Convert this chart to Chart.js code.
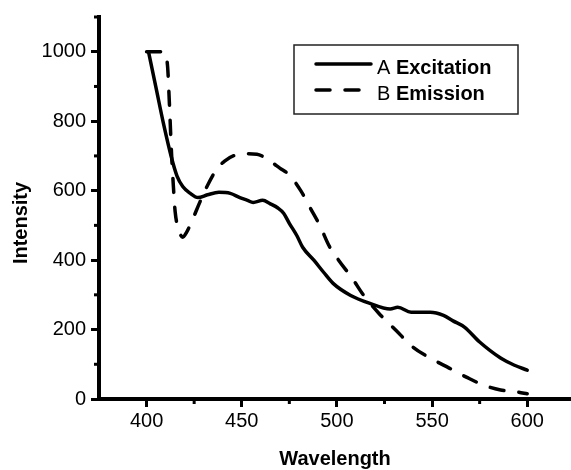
<!DOCTYPE html>
<html>
<head>
<meta charset="utf-8">
<script src="https://cdn.jsdelivr.net/npm/chart.js@4.4.1/dist/chart.umd.min.js"></script>
<style>
  html, body { margin: 0; padding: 0; background: #fff; }
  #wrap { width: 571px; height: 470px; }
</style>
</head>
<body>
<div id="wrap"><canvas id="spectrum" width="571" height="470"></canvas></div>
<script>
// Curve A: excitation (solid)
const excitationX = [401, 405, 409, 413, 416, 419, 423, 427, 432, 438, 444, 449, 453, 456, 461, 465, 469, 472, 475, 479, 482, 488, 493, 498, 507, 517, 528, 532, 539, 549, 556, 561, 567, 575, 586, 593, 600];
const excitationY = [1000, 895, 790, 697, 642, 612, 592, 580, 588, 595, 592, 580, 572, 566, 572, 562, 550, 535, 506, 470, 437, 399, 365, 333, 299, 276, 259, 264, 250, 250, 241, 225, 207, 164, 118, 98, 83];

// Curve B: emission (dashed)
const emissionX = [400, 409, 411, 412, 413, 414, 415, 417, 419, 421, 424, 428, 432, 437, 441, 446, 452, 458, 464, 470, 475, 481, 486, 491, 496, 501, 508, 514, 522, 531, 540, 549, 559, 568, 577, 586, 595, 600];
const emissionY = [1000, 1000, 960, 850, 720, 620, 540, 485, 466, 480, 515, 567, 615, 663, 685, 701, 706, 705, 688, 665, 645, 600, 550, 500, 440, 399, 348, 299, 247, 198, 149, 118, 89, 63, 40, 26, 20, 15];

const xTicks = [400, 450, 500, 550, 600];
const yTicks = [0, 200, 400, 600, 800, 1000];
const xMinor = [425, 475, 525, 575];
const yMinor = [100, 300, 500, 700, 900, 1100];

const legendLetters = ['A', 'B'];
const seriesNames = ['Excitation', 'Emission'];
const xTitle = 'Wavelength';
const yTitle = 'Intensity';

const FONT = "'Liberation Sans', Arial, Helvetica, sans-serif";

function toPoints(xs, ys) {
  return xs.map((x, i) => ({ x: x, y: ys[i] }));
}

// Short minor ticks on both axes, plus the rotated y title
const axisExtras = {
  id: 'axisExtras',
  afterDraw(chart) {
    const ctx = chart.ctx;
    const area = chart.chartArea;
    const xs = chart.scales.x, ys = chart.scales.y;
    ctx.save();
    ctx.strokeStyle = '#000';
    ctx.lineWidth = 3;
    xMinor.forEach(v => {
      const px = xs.getPixelForValue(v);
      ctx.beginPath();
      ctx.moveTo(px, area.bottom);
      ctx.lineTo(px, area.bottom + 5);
      ctx.stroke();
    });
    yMinor.forEach(v => {
      const py = ys.getPixelForValue(v);
      ctx.beginPath();
      ctx.moveTo(area.left, py);
      ctx.lineTo(area.left - 5, py);
      ctx.stroke();
    });
    // y title sits a little below the axis middle in the original
    ctx.translate(21, (area.top + area.bottom) / 2 + 15);
    ctx.rotate(-Math.PI / 2);
    ctx.font = 'bold 20px ' + FONT;
    ctx.fillStyle = '#000';
    ctx.textAlign = 'center';
    ctx.textBaseline = 'middle';
    ctx.fillText(yTitle, 0, 0);
    ctx.restore();
  }
};

// Boxed legend: plain letter followed by bold series name
const boxLegend = {
  id: 'boxLegend',
  afterDraw(chart) {
    const ctx = chart.ctx;
    const area = chart.chartArea;
    const x0 = area.left + 195, y0 = area.top + 28;
    ctx.save();
    ctx.strokeStyle = '#222';
    ctx.lineWidth = 1.5;
    ctx.strokeRect(x0, y0, 224, 69);
    chart.data.datasets.forEach((ds, i) => {
      const ly = y0 + 19 + i * 26;
      ctx.beginPath();
      ctx.strokeStyle = '#000';
      ctx.lineWidth = 3.5;
      ctx.lineCap = 'round';
      ctx.setLineDash(ds.borderDash || []);
      ctx.moveTo(x0 + 22, ly);
      ctx.lineTo(x0 + 77, ly);
      ctx.stroke();
      ctx.setLineDash([]);
      ctx.fillStyle = '#000';
      ctx.textBaseline = 'alphabetic';
      ctx.font = '20px ' + FONT;
      const letter = legendLetters[i] + ' ';
      ctx.fillText(letter, x0 + 83, ly + 10);
      const w = ctx.measureText(letter).width;
      ctx.font = 'bold 20px ' + FONT;
      ctx.fillText(seriesNames[i], x0 + 83 + w, ly + 10);
    });
    ctx.restore();
  }
};

new Chart(document.getElementById('spectrum'), {
  type: 'line',
  data: {
    datasets: [
      {
        label: seriesNames[0],
        data: toPoints(excitationX, excitationY),
        borderColor: '#000',
        borderWidth: 3.5,
        pointRadius: 0,
        cubicInterpolationMode: 'monotone',
        borderCapStyle: 'round'
      },
      {
        label: seriesNames[1],
        data: toPoints(emissionX, emissionY),
        borderColor: '#000',
        borderWidth: 3.5,
        borderDash: [14, 15],
        pointRadius: 0,
        cubicInterpolationMode: 'monotone',
        borderCapStyle: 'round'
      }
    ]
  },
  options: {
    responsive: false,
    animation: false,
    devicePixelRatio: 1,
    layout: { padding: { left: 0, right: 0, top: 15, bottom: 0 } },
    plugins: {
      legend: { display: false },
      tooltip: { enabled: false }
    },
    scales: {
      x: {
        type: 'linear',
        min: 375,
        max: 623,
        afterBuildTicks: s => { s.ticks = xTicks.map(v => ({ value: v })); },
        afterFit: s => { s.height = 71; },
        border: { display: true, color: '#000', width: 4 },
        grid: { drawOnChartArea: false, drawTicks: true, tickLength: 8, tickWidth: 3, tickColor: '#000' },
        ticks: { color: '#000', font: { family: FONT, size: 20 }, padding: 2, maxRotation: 0, callback: v => String(v) },
        title: {
          display: true,
          text: xTitle,
          color: '#000',
          font: { family: FONT, size: 20, weight: 'bold', lineHeight: 1.1 },
          padding: 0
        }
      },
      y: {
        type: 'linear',
        min: 0,
        max: 1100,
        afterBuildTicks: s => { s.ticks = yTicks.map(v => ({ value: v })); },
        afterFit: s => { s.width = 99; },
        border: { display: true, color: '#000', width: 4 },
        grid: { drawOnChartArea: false, drawTicks: true, tickLength: 8, tickWidth: 3, tickColor: '#000' },
        ticks: { color: '#000', font: { family: FONT, size: 20 }, padding: 5, callback: v => String(v) }
      }
    }
  },
  plugins: [axisExtras, boxLegend]
});
</script>
</body>
</html>
